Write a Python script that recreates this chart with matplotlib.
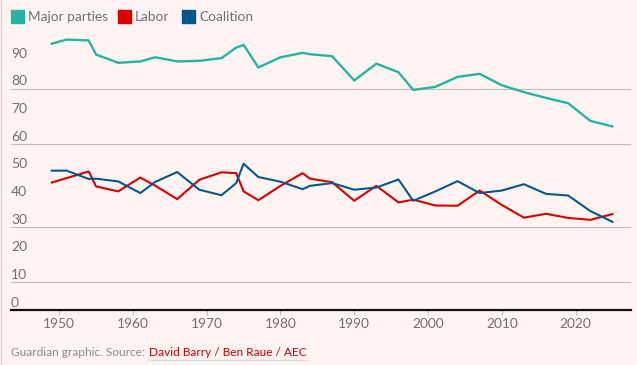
import matplotlib.pyplot as plt
from matplotlib.patches import Rectangle
from matplotlib.lines import Line2D
from matplotlib import transforms

# ---------------------------------------------------------------
# Data: primary vote share (%) at each federal election
# ---------------------------------------------------------------
years = [1949, 1951, 1954, 1955, 1958, 1961, 1963, 1966, 1969, 1972,
         1974, 1975, 1977, 1980, 1983, 1984, 1987, 1990, 1993, 1996,
         1998, 2001, 2004, 2007, 2010, 2013, 2016, 2019, 2022, 2025]

major_parties = [96.3, 97.8, 97.5, 92.4, 89.4, 89.9, 91.4, 89.9, 90.1, 91.1,
                 94.9, 95.9, 87.7, 91.4, 93.0, 92.5, 91.8, 83.0, 89.1, 86.0,
                 79.6, 80.7, 84.3, 85.4, 81.3, 78.8, 76.7, 74.8, 68.4, 66.4]

labor = [46.1, 47.7, 50.1, 44.7, 42.9, 47.9, 45.0, 40.1, 47.1, 49.8,
         49.5, 42.9, 39.7, 44.9, 49.5, 47.5, 46.2, 39.5, 44.9, 38.9,
         39.9, 37.8, 37.7, 43.2, 38.0, 33.4, 34.8, 33.3, 32.6, 34.7]

coalition = [50.4, 50.4, 47.4, 47.5, 46.5, 42.3, 46.3, 49.9, 43.5, 41.5,
             45.9, 52.9, 48.1, 46.4, 43.7, 44.9, 45.9, 43.5, 44.3, 47.2,
             39.5, 42.9, 46.6, 42.3, 43.2, 45.5, 42.0, 41.4, 35.8, 31.9]

series_names = ["Major parties", "Labor", "Coalition"]
year_ticks = [1950, 1960, 1970, 1980, 1990, 2000, 2010, 2020]
value_labels = [0, 10, 20, 30, 40, 50, 60, 70, 80, 90]
grid_values = [10, 30, 60, 80]

# ---------------------------------------------------------------
# Styling
# ---------------------------------------------------------------
BG = '#fff4f2'
TEAL = '#27b3a3'
RED = '#d90000'
BLUE = '#05588f'
GREY_TXT = '#707070'
GRID = '#bdbdbd'
plt.rcParams['font.family'] = ['Lato', 'DejaVu Sans']

W, H = 637, 365
fig = plt.figure(figsize=(W / 100, H / 100), dpi=100, facecolor=BG)

# axes geometry in pixels: x from 11 to 631, y zero line at 310
ax = fig.add_axes([11 / W, (H - 310) / H, 620 / W, 276.5 / H])
ax.set_facecolor(BG)
ax.set_xlim(1943.47, 2027.52)
ax.set_ylim(0, 100)

for v in grid_values:
    ax.axhline(v, color=GRID, lw=0.8, zorder=1)

ax.plot(years, major_parties, color=TEAL, lw=1.7, zorder=3)
ax.plot(years, labor, color=RED, lw=1.5, zorder=3)
ax.plot(years, coalition, color=BLUE, lw=1.5, zorder=4)

for s in ['top', 'left', 'right']:
    ax.spines[s].set_visible(False)
ax.spines['bottom'].set_color('#121212')
ax.spines['bottom'].set_linewidth(1.6)
ax.spines['bottom'].set_zorder(5)

ax.set_yticks([])
ax.set_xticks(year_ticks)
ax.set_xticklabels([str(y) for y in year_ticks])
ax.tick_params(axis='x', length=3.8, width=0.7, color='#bbbbbb',
               labelcolor=GREY_TXT, labelsize=9.9, pad=2.2)

# y labels sit just above their gridlines, at the left edge
trans = transforms.blended_transform_factory(ax.transAxes, ax.transData)
for v in value_labels:
    ax.annotate(str(v), (0, v), xycoords=trans, xytext=(0, 1.0),
                textcoords='offset points', ha='left', va='bottom',
                fontsize=10, color=GREY_TXT)

# ---------------------------------------------------------------
# Legend (top left)
# ---------------------------------------------------------------
legend_items = [(series_names[0], TEAL, 11, 28),
                (series_names[1], RED, 118, 135),
                (series_names[2], BLUE, 182, 199)]
for name, col, sx, tx in legend_items:
    fig.patches.append(Rectangle((sx / W, (H - 23) / H), 13 / W, 13 / H,
                                 transform=fig.transFigure, color=col))
    fig.text(tx / W, (H - 17) / H, name, ha='left', va='center',
             fontsize=9.8, color=GREY_TXT)

# left border line
fig.add_artist(Line2D([0.8 / W, 0.8 / W], [0, 1], transform=fig.transFigure,
                      color='#d8d8d8', lw=1))

# ---------------------------------------------------------------
# Footer
# ---------------------------------------------------------------
t1 = fig.text(11 / W, (H - 352) / H, "Guardian graphic. Source: ",
              ha='left', va='center', fontsize=8.6, color='#8a8a8a')
fig.canvas.draw()
r = fig.canvas.get_renderer()
bb = t1.get_window_extent(r)
x2 = bb.x1 / W + 1 / W
t2 = fig.text(x2, (H - 352) / H, "David Barry / Ben Raue / AEC",
              ha='left', va='center', fontsize=8.6, color='#c70000')
fig.canvas.draw()
bb2 = t2.get_window_extent(r)
fig.add_artist(Line2D([bb2.x0 / W, bb2.x1 / W], [(H - 359.5) / H] * 2,
                      transform=fig.transFigure, color='#dcdcdc', lw=0.9))

fig.savefig('out.png', dpi=100, facecolor=BG)
